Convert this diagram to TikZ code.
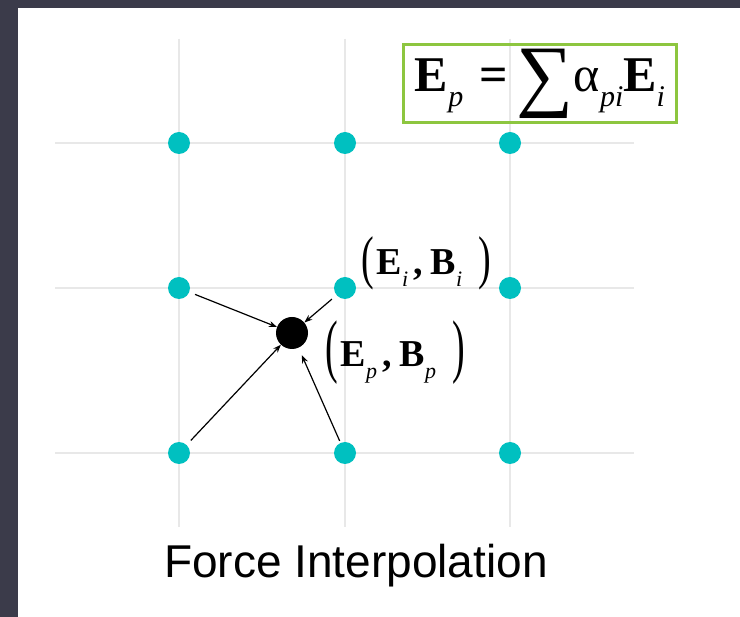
\documentclass[tikz,border=0pt]{standalone}
\usepackage{fontspec}
\usepackage{graphicx}
\setmainfont{Liberation Sans}
\newfontfamily\timesfont{Liberation Serif}
\usetikzlibrary{arrows.meta,positioning}
\definecolor{Frame}{HTML}{3B3B4A}
\definecolor{Grid}{HTML}{E8E8E8}
\definecolor{Teal}{HTML}{00C0C0}
\definecolor{Lime}{HTML}{8DC63F}
\newcommand{\sbs}[2]{\raisebox{-0.3em}{\fontsize{#1}{#1}\selectfont\mdseries\itshape #2}}
\newcommand{\tallparen}[2]{\raisebox{-3pt}{\mdseries\scalebox{1}[#1]{#2}}}
\newcommand{\fieldpair}[2]{\tallparen{#1}{(}\hspace{3pt}E\sbs{22}{#2}\hspace{5pt},\hspace{8pt}B\sbs{22}{#2}\hspace{16pt}\tallparen{#1}{)}}
\tikzset{
  gridline/.style={draw=Grid,line width=1.5pt},
  griddot/.style={circle,fill=Teal,minimum size=22pt,inner sep=0pt,draw=none},
  particle/.style={circle,fill=black,minimum size=32pt,inner sep=0pt},
  interp/.style={-{Stealth[length=8pt,width=6pt]},line width=1.2pt,shorten <=6pt},
  pairlabel/.style={font=\timesfont\fontsize{38}{38}\selectfont\bfseries,inner sep=0pt,anchor=base west},
}

\begin{document}
\begin{tikzpicture}[x=1pt,y=-1pt]
  \useasboundingbox (0,0) rectangle (740,617);
  \fill[Frame] (0,0) rectangle (740,617);
  \fill[white] (18,8) rectangle (740,617);

  % mesh
  \foreach \x in {179,345,510} \draw[gridline] (\x,39) -- (\x,527);
  \foreach \y in {143,288,453} \draw[gridline] (55,\y) -- (634,\y);
  \foreach \x/\c in {179/1,345/2,510/3}
    \foreach \y/\r in {143/1,288/2,453/3}
      \node[griddot] (g\r\c) at (\x,\y) {};

  % particle and gathering
  \node[particle] (p) at (292,333) {};
  \draw[interp] (g21) -- (p);
  \draw[interp] (g22) -- (p);
  \draw[interp] (g31) -- (p);
  \draw[interp,shorten <=2pt,shorten >=8pt] (g32) -- (p);

  \node[pairlabel] (gridfield) at (361,275) {\fieldpair{1.55}{i}};
  \node[pairlabel] (partfield) at (325,367) {\fieldpair{1.85}{p}};

  \node[draw=Lime,line width=3pt,minimum width=273pt,minimum height=78pt,inner sep=0pt] (formula) at (540,83.5)
    {\timesfont\fontsize{50}{50}\selectfont\bfseries E\sbs{30}{p}\,\,=\,\raisebox{-10pt}{\fontsize{80}{80}\selectfont\mdseries ∑}\mdseries α\sbs{30}{pi}\bfseries E\sbs{30}{i}};

  \node[font=\fontsize{46}{46}\selectfont,anchor=base] (caption) at (356,578) {Force Interpolation};
\end{tikzpicture}
\end{document}
